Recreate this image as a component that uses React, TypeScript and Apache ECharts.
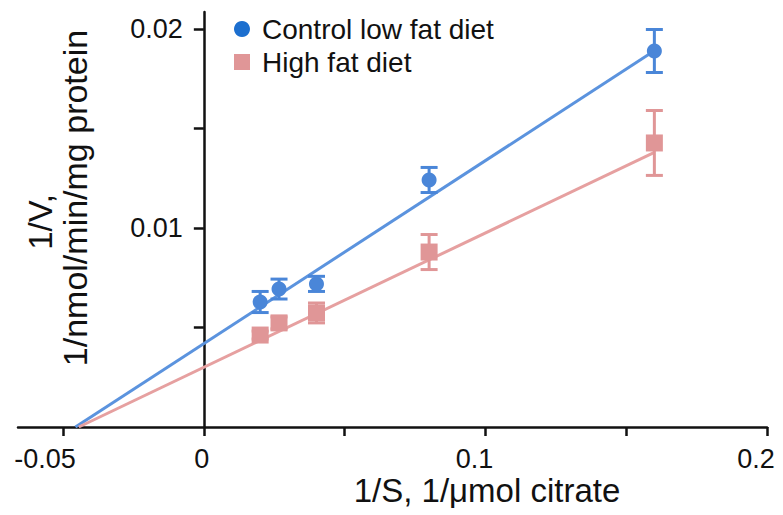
import React, { useEffect, useRef } from "react";
import * as echarts from "echarts";

// 1/S values (1/µmol citrate)
const xValues = [0.02, 0.0267, 0.04, 0.08, 0.16];
// Control low fat diet
const controlY = [0.00628, 0.00693, 0.00719, 0.01241, 0.01889];
const controlErr = [0.00053, 0.0005, 0.00038, 0.00063, 0.00108];
// High fat diet
const highFatY = [0.00462, 0.00523, 0.00573, 0.00879, 0.01427];
const highFatErr = [0.0002, 0.0003, 0.0005, 0.00088, 0.00163];
// Lineweaver-Burk fit line end points
const controlFit = [[-0.0456, 0], [0.16, 0.0189]];
const highFatFit = [[-0.0444, 0], [0.16, 0.0138]];

const xTicks = [-0.05, 0, 0.05, 0.1, 0.15, 0.2];
const xTickLabels = [-0.05, 0, 0.1, 0.2];
const yTicks = [0.005, 0.01, 0.015, 0.02];
const yTickLabels = [0.01, 0.02];

const seriesNames = ["Control low fat diet", "High fat diet"];

const X_MIN = -0.066;
const X_MAX = 0.2;
const GRID_LEFT = 18;
const GRID_RIGHT = 16;
const WIDTH = 783;

const BLUE = "#4a86d8";
const BLUE_LINE = "#5b93de";
const BLUE_LEGEND = "#1c6fcf";
const PINK = "#e09697";
const PINK_LINE = "#e6a0a0";
const FONT = "Liberation Sans, Arial, sans-serif";

function errorBarSeries(ys: number[], errs: number[], color: string) {
  return {
    type: "custom",
    silent: true,
    z: 3,
    data: xValues.map((x, i) => [x, ys[i], errs[i]]),
    encode: { x: 0, y: 1 },
    renderItem: (params: any, api: any) => {
      const x = api.value(0);
      const y = api.value(1);
      const e = api.value(2);
      const top = api.coord([x, y + e]);
      const bot = api.coord([x, y - e]);
      const hw = 8.5;
      const style = { stroke: color, lineWidth: 3 };
      return {
        type: "group",
        children: [
          { type: "line", shape: { x1: top[0], y1: top[1], x2: bot[0], y2: bot[1] }, style },
          { type: "line", shape: { x1: top[0] - hw, y1: top[1], x2: top[0] + hw, y2: top[1] }, style },
          { type: "line", shape: { x1: bot[0] - hw, y1: bot[1], x2: bot[0] + hw, y2: bot[1] }, style },
        ],
      };
    },
  };
}

export default function App() {
  const ref = useRef<HTMLDivElement>(null);
  useEffect(() => {
    if (!ref.current) return;
    const chart = echarts.init(ref.current, null, { renderer: "svg" });
    const shift: Record<string, string> = { "-0.05": "a", "0": "b", "0.1": "c", "0.2": "c" };
    const plotW = WIDTH - GRID_LEFT - GRID_RIGHT;
    const yAxisOffset = -((0 - X_MIN) / (X_MAX - X_MIN)) * plotW;
    chart.setOption({
      animation: false,
      backgroundColor: "#ffffff",
      textStyle: { fontFamily: FONT },
      grid: { left: GRID_LEFT, right: GRID_RIGHT, top: 12, bottom: 88, outerBoundsMode: "none" },
      legend: {
        orient: "vertical",
        left: 229,
        top: 9,
        itemWidth: 16,
        itemHeight: 16,
        itemGap: 3,
        selectedMode: false,
        textStyle: { fontSize: 28, color: "#111", fontFamily: FONT, lineHeight: 30, padding: [0, 0, 0, 7] },
        data: [
          { name: seriesNames[0], icon: "circle", itemStyle: { color: BLUE_LEGEND } },
          { name: seriesNames[1], icon: "rect", itemStyle: { color: PINK } },
        ],
      },
      xAxis: {
        type: "value",
        min: X_MIN,
        max: X_MAX,
        splitLine: { show: false },
        axisLine: { lineStyle: { color: "#111", width: 2.5 } },
        axisTick: { customValues: xTicks, length: 9, lineStyle: { color: "#111", width: 2.5 } },
        axisLabel: {
          customValues: xTickLabels,
          margin: 18,
          fontSize: 27,
          color: "#111",
          fontFamily: FONT,
          formatter: (v: number) => {
            const s = String(Math.round(v * 1000) / 1000);
            const k = shift[s] || "b";
            return `{${k}|${s}}`;
          },
          rich: {
            a: { fontSize: 27, fontFamily: FONT, color: "#111", padding: [0, 36, 0, 0] },
            b: { fontSize: 27, fontFamily: FONT, color: "#111", padding: [0, 4, 0, 0] },
            c: { fontSize: 27, fontFamily: FONT, color: "#111", padding: [0, 22, 0, 0] },
          },
        },
      },
      yAxis: {
        type: "value",
        min: 0,
        max: 0.02085,
        position: "left",
        offset: yAxisOffset,
        splitLine: { show: false },
        axisLine: { onZero: false, lineStyle: { color: "#111", width: 2.5 } },
        axisTick: { customValues: yTicks, length: 10, lineStyle: { color: "#111", width: 2.5 } },
        axisLabel: {
          customValues: yTickLabels,
          margin: 21,
          fontSize: 27,
          color: "#111",
          fontFamily: FONT,
          padding: [6, 0, 0, 0],
          formatter: (v: number) => String(Math.round(v * 1000) / 1000),
        },
      },
      graphic: [
        {
          type: "text",
          x: 487,
          y: 490,
          style: {
            text: "1/S, 1/μmol citrate",
            fontSize: 33,
            fontFamily: FONT,
            fill: "#111",
            textAlign: "center",
            textVerticalAlign: "middle",
          },
        },
        {
          type: "text",
          x: 40,
          y: 222,
          rotation: Math.PI / 2,
          style: {
            text: "1/V,",
            fontSize: 33,
            fontFamily: FONT,
            fill: "#111",
            textAlign: "center",
            textVerticalAlign: "middle",
          },
        },
        {
          type: "text",
          x: 75,
          y: 198,
          rotation: Math.PI / 2,
          style: {
            text: "1/nmol/min/mg protein",
            fontSize: 34,
            fontFamily: FONT,
            fill: "#111",
            textAlign: "center",
            textVerticalAlign: "middle",
          },
        },
      ],
      series: [
        {
          name: "controlFit",
          type: "line",
          data: controlFit,
          showSymbol: false,
          silent: true,
          z: 1,
          lineStyle: { color: BLUE_LINE, width: 3 },
        },
        {
          name: "highFatFit",
          type: "line",
          data: highFatFit,
          showSymbol: false,
          silent: true,
          z: 1,
          lineStyle: { color: PINK_LINE, width: 3 },
        },
        errorBarSeries(controlY, controlErr, BLUE),
        errorBarSeries(highFatY, highFatErr, PINK),
        {
          name: seriesNames[0],
          type: "scatter",
          symbol: "circle",
          symbolSize: 15,
          z: 4,
          itemStyle: { color: BLUE, opacity: 1 },
          data: xValues.map((x, i) => [x, controlY[i]]),
        },
        {
          name: seriesNames[1],
          type: "scatter",
          symbol: "rect",
          symbolSize: 17,
          z: 4,
          itemStyle: { color: PINK, opacity: 1 },
          data: xValues.map((x, i) => [x, highFatY[i]]),
        },
      ],
    });
    return () => chart.dispose();
  }, []);
  return <div ref={ref} style={{ width: 783, height: 515, position: "absolute", left: 0, top: 0 }} />;
}
